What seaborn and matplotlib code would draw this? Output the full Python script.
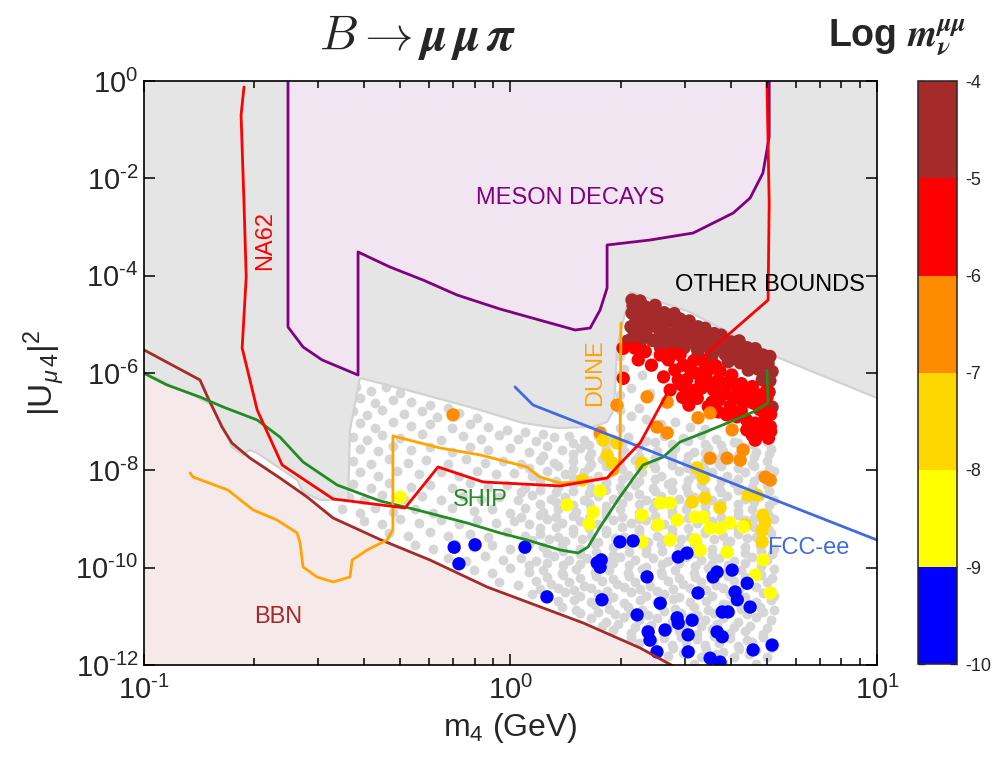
import numpy as np
import pandas as pd
import matplotlib
matplotlib.use("Agg")
import matplotlib.pyplot as plt
import seaborn as sns
from matplotlib.colors import ListedColormap, BoundaryNorm
from matplotlib.cm import ScalarMappable
from matplotlib.ticker import FixedLocator, NullLocator, NullFormatter, FuncFormatter

# all curves as log10(m4 / GeV) and log10(|U|^2)

na62_lx = [-0.726, -0.734, -0.726, -0.720, -0.731, -0.690, -0.622, -0.483, -0.287, -0.197,
           -0.074, 0.136, 0.264, 0.291, 0.354, 0.428, 0.509, 0.703, 0.706, 0.700]
na62_ly = [-0.123, -0.699, -2.507, -4.027, -5.486, -6.760, -7.890, -8.588, -8.773, -7.931,
           -8.239, -8.321, -8.157, -7.931, -7.438, -6.411, -5.774, -4.500, -2.507, -0.041]

meson_lx = [-0.606, -0.606, -0.565, -0.513, -0.415, -0.415, -0.328, -0.238, -0.145, -0.028,
            0.128, 0.177, 0.218, 0.245, 0.264, 0.264, 0.381, 0.499, 0.608, 0.654,
            0.689, 0.706, 0.706]
meson_ly = [0.0, -5.054, -5.465, -5.732, -6.041, -3.513, -3.822, -4.089, -4.397, -4.685,
            -5.013, -5.116, -5.075, -4.705, -4.253, -3.370, -3.267, -3.123, -2.712, -2.404,
            -1.890, -1.151, 0.0]

bbn_lx = [-1.0, -0.846, -0.824, -0.786, -0.759, -0.710, -0.628, -0.554, -0.483, -0.352,
          -0.219, -0.063, 0.046, 0.199, 0.354, 0.449]
bbn_ly = [-5.52, -6.143, -6.513, -7.109, -7.438, -7.746, -8.157, -8.547, -8.979, -9.431,
          -9.842, -10.397, -10.705, -11.136, -11.650, -12.041]

ship_lx = [-1.0, -0.936, -0.846, -0.783, -0.690, -0.628, -0.565, -0.472, -0.355, -0.254,
           -0.118, -0.028, 0.046, 0.136, 0.185, 0.212, 0.245, 0.299, 0.362, 0.417,
           0.463, 0.526, 0.599, 0.662, 0.703, 0.700]
ship_ly = [-6.000, -6.246, -6.493, -6.698, -6.965, -7.315, -7.828, -8.301, -8.629, -8.814,
           -9.081, -9.287, -9.431, -9.636, -9.698, -9.575, -9.164, -8.547, -7.890, -7.726,
           -7.417, -7.232, -7.006, -6.801, -6.616, -5.938]

dune_lx = [-0.873, -0.865, -0.770, -0.701, -0.636, -0.581, -0.573, -0.565, -0.527, -0.483,
           -0.437, -0.431, -0.390, -0.336, -0.320, -0.320, -0.191, -0.082, 0.046, 0.081,
           0.136, 0.185, 0.264, 0.291, 0.299, 0.302]
dune_ly = [-8.054, -8.137, -8.404, -8.814, -9.020, -9.287, -9.493, -9.986, -10.191, -10.294,
           -10.191, -9.842, -9.636, -9.431, -9.225, -7.294, -7.541, -7.684, -7.931, -8.137,
           -8.260, -8.239, -8.157, -8.054, -7.787, -4.972]

fcc_lx = [0.013, 0.062, 1.0]
fcc_ly = [-6.287, -6.657, -9.431]

# outline of the grey "other bounds" area
other_lx = [-1.0, 1.0, 1.0, 0.700, 0.490, 0.327, 0.291, 0.286, 0.278, 0.264,
            0.226, 0.128, 0.035, -0.101, -0.282, -0.410, -0.437, -0.442, -0.519, -0.565,
            -0.581, -0.690, -0.710, -0.729, -0.759, -0.770, -0.813, -0.865, -0.928, -1.0]
other_ly = [0.0, 0.0, -6.513, -5.589, -4.746, -4.335, -5.465, -6.349, -6.821, -7.006,
            -7.109, -7.130, -7.027, -6.719, -6.349, -6.102, -7.171, -8.609, -8.609, -8.445,
            -8.198, -7.643, -7.582, -7.684, -7.520, -7.315, -6.657, -6.452, -6.246, -5.979]

# axis ticks
x_major = [0.1, 1.0, 10.0]
x_minor = [0.2, 0.3, 0.4, 0.5, 0.6, 0.7, 0.8, 0.9, 2, 3, 4, 5, 6, 7, 8, 9]
y_major = [1e-12, 1e-10, 1e-8, 1e-6, 1e-4, 1e-2, 1.0]

# scan points, (log10 m4, log10 |U|^2)
gray_pts = [
    (-0.42, -6.28), (-0.38, -6.36), (-0.34, -6.29), (-0.30, -6.41),
    (-0.41, -6.52), (-0.37, -6.61), (-0.32, -6.55), (-0.27, -6.60), (-0.22, -6.66), (-0.17, -6.72),
    (0.30, -6.45), (0.30, -6.05), (0.30, -5.65), (0.31, -5.30), (0.33, -6.30), (0.30, -6.75),
    (0.35, -6.72), (0.38, -6.42), (0.31, -5.92), (0.36, -6.05),
    (-0.43, -6.79), (-0.39, -6.87), (-0.35, -6.76), (-0.29, -6.84), (-0.24, -6.79), (-0.20, -6.90),
    (-0.14, -6.83), (-0.09, -6.93), (0.33, -6.88), (0.37, -6.95),
    (-0.41, -7.03), (-0.37, -7.12), (-0.32, -7.01), (-0.27, -7.09), (-0.22, -7.04), (-0.16, -7.13),
    (-0.11, -7.05), (-0.06, -7.11), (-0.01, -7.17), (0.04, -7.22), (0.09, -7.25), (0.30, -7.12),
    (0.41, -7.05), (0.45, -7.00), (0.49, -7.10), (0.53, -7.15),
    (-0.43, -7.31), (-0.39, -7.37), (-0.35, -7.27), (-0.30, -7.34), (-0.24, -7.26), (-0.19, -7.38),
    (-0.13, -7.30), (-0.08, -7.35), (-0.03, -7.27), (0.02, -7.36), (0.07, -7.40), (0.12, -7.32),
    (0.16, -7.29), (0.20, -7.37), (0.24, -7.30), (0.28, -7.36), (0.32, -7.31), (0.37, -7.39),
    (0.42, -7.30), (0.47, -7.34), (0.52, -7.27), (0.56, -7.36), (0.61, -7.41), (0.66, -7.46),
    (-0.41, -7.56), (-0.36, -7.61), (-0.32, -7.51), (-0.27, -7.59), (-0.22, -7.53), (-0.16, -7.62),
    (-0.11, -7.52), (-0.06, -7.58), (0.00, -7.55), (0.05, -7.63), (0.10, -7.51), (0.14, -7.58),
    (0.19, -7.55), (0.22, -7.64), (0.26, -7.54), (0.31, -7.61), (0.35, -7.52), (0.40, -7.60),
    (0.45, -7.55), (0.50, -7.63), (0.54, -7.54), (0.58, -7.60), (0.63, -7.53), (0.67, -7.62),
    (0.71, -7.56),
    (-0.43, -7.81), (-0.38, -7.86), (-0.33, -7.77), (-0.28, -7.85), (-0.23, -7.79), (-0.17, -7.88),
    (-0.12, -7.77), (-0.07, -7.84), (-0.02, -7.80), (0.03, -7.87), (0.08, -7.78), (0.12, -7.85),
    (0.17, -7.81), (0.22, -7.87), (0.25, -7.77), (0.30, -7.84), (0.34, -7.79), (0.39, -7.88),
    (0.44, -7.78), (0.48, -7.85), (0.53, -7.80), (0.57, -7.87), (0.62, -7.79), (0.66, -7.86),
    (0.70, -7.80),
    (-0.41, -8.04), (-0.36, -8.11), (-0.31, -8.01), (-0.25, -8.08), (-0.19, -8.03), (-0.14, -8.12),
    (-0.09, -8.02), (-0.04, -8.08), (0.01, -8.05), (0.06, -8.11), (0.10, -8.01), (0.15, -8.08),
    (0.20, -8.03), (0.24, -8.12), (0.28, -8.02), (0.32, -8.09), (0.36, -8.04), (0.41, -8.11),
    (0.46, -8.01), (0.50, -8.08), (0.55, -8.04), (0.59, -8.12), (0.64, -8.03), (0.68, -8.10),
    (0.72, -8.02),
    (-0.43, -8.29), (-0.38, -8.36), (-0.33, -8.27), (-0.27, -8.35), (-0.22, -8.30), (-0.16, -8.37),
    (-0.11, -8.27), (-0.06, -8.34), (-0.01, -8.30), (0.04, -8.37), (0.08, -8.28), (0.13, -8.34),
    (0.17, -8.29), (0.22, -8.36), (0.26, -8.27), (0.30, -8.35), (0.34, -8.30), (0.39, -8.37),
    (0.43, -8.28), (0.48, -8.34), (0.52, -8.30), (0.57, -8.37), (0.61, -8.27), (0.66, -8.34),
    (0.70, -8.30),
    (-0.44, -8.54), (-0.40, -8.61), (-0.35, -8.51), (-0.29, -8.59), (-0.24, -8.53), (-0.19, -8.61),
    (-0.13, -8.52), (-0.08, -8.58), (-0.03, -8.54), (0.02, -8.61), (0.06, -8.51), (0.11, -8.58),
    (0.15, -8.54), (0.20, -8.61), (0.24, -8.52), (0.28, -8.58), (0.32, -8.53), (0.37, -8.61),
    (0.41, -8.52), (0.46, -8.59), (0.50, -8.54), (0.55, -8.61), (0.59, -8.52), (0.64, -8.58),
    (0.68, -8.53), (0.72, -8.60),
    (-0.46, -8.79), (-0.41, -8.87), (-0.37, -8.77), (-0.32, -8.85), (-0.26, -8.80), (-0.21, -8.87),
    (-0.16, -8.77), (-0.10, -8.84), (-0.05, -8.80), (0.00, -8.87), (0.04, -8.78), (0.09, -8.85),
    (0.13, -8.80), (0.18, -8.86), (0.22, -8.77), (0.26, -8.84), (0.30, -8.80), (0.35, -8.87),
    (0.39, -8.78), (0.44, -8.84), (0.48, -8.80), (0.53, -8.87), (0.57, -8.77), (0.62, -8.84),
    (0.66, -8.80), (0.70, -8.86),
    (-0.40, -9.04), (-0.35, -9.11), (-0.30, -9.01), (-0.25, -9.08), (-0.19, -9.03), (-0.14, -9.11),
    (-0.09, -9.02), (-0.04, -9.08), (0.01, -9.04), (0.05, -9.11), (0.10, -9.01), (0.14, -9.08),
    (0.19, -9.04), (0.24, -9.11), (0.28, -9.02), (0.33, -9.08), (0.37, -9.03), (0.42, -9.11),
    (0.46, -9.02), (0.51, -9.08), (0.55, -9.04), (0.60, -9.11), (0.64, -9.02), (0.69, -9.08),
    (0.72, -9.00),
    (-0.33, -9.29), (-0.28, -9.35), (-0.22, -9.27), (-0.17, -9.35), (-0.11, -9.30), (-0.06, -9.37),
    (-0.01, -9.27), (0.04, -9.34), (0.08, -9.30), (0.13, -9.37), (0.17, -9.28), (0.22, -9.34),
    (0.26, -9.29), (0.31, -9.36), (0.35, -9.27), (0.40, -9.34), (0.44, -9.30), (0.49, -9.37),
    (0.53, -9.28), (0.58, -9.34), (0.62, -9.30), (0.67, -9.36), (0.71, -9.28),
    (-0.26, -9.54), (-0.21, -9.61), (-0.15, -9.51), (-0.10, -9.58), (-0.05, -9.54), (0.00, -9.61),
    (0.05, -9.51), (0.09, -9.58), (0.14, -9.54), (0.19, -9.61), (0.23, -9.52), (0.28, -9.58),
    (0.32, -9.53), (0.37, -9.61), (0.41, -9.52), (0.46, -9.58), (0.50, -9.54), (0.55, -9.61),
    (0.59, -9.51), (0.64, -9.58), (0.68, -9.54), (0.72, -9.61),
    (-0.17, -9.80), (-0.12, -9.87), (-0.07, -9.77), (-0.02, -9.84), (0.03, -9.80), (0.07, -9.87),
    (0.12, -9.77), (0.16, -9.84), (0.21, -9.80), (0.26, -9.87), (0.30, -9.78), (0.34, -9.84),
    (0.39, -9.80), (0.43, -9.87), (0.48, -9.78), (0.52, -9.84), (0.57, -9.80), (0.61, -9.87),
    (0.66, -9.78), (0.70, -9.84),
    (-0.10, -10.04), (-0.05, -10.11), (0.00, -10.01), (0.05, -10.08), (0.09, -10.04), (0.14, -10.11),
    (0.18, -10.02), (0.23, -10.08), (0.27, -10.04), (0.32, -10.11), (0.36, -10.02), (0.41, -10.08),
    (0.45, -10.04), (0.50, -10.11), (0.54, -10.01), (0.59, -10.08), (0.63, -10.04), (0.68, -10.11),
    (0.72, -10.02),
    (-0.03, -10.29), (0.02, -10.36), (0.07, -10.27), (0.11, -10.34), (0.16, -10.30), (0.20, -10.37),
    (0.25, -10.27), (0.29, -10.34), (0.34, -10.30), (0.38, -10.37), (0.43, -10.28), (0.47, -10.34),
    (0.52, -10.29), (0.56, -10.36), (0.61, -10.27), (0.65, -10.34), (0.70, -10.30),
    (0.06, -10.54), (0.10, -10.61), (0.15, -10.51), (0.19, -10.58), (0.24, -10.54), (0.28, -10.61),
    (0.33, -10.51), (0.37, -10.58), (0.42, -10.54), (0.46, -10.61), (0.51, -10.52), (0.55, -10.58),
    (0.60, -10.54), (0.64, -10.61), (0.69, -10.52), (0.72, -10.58),
    (0.14, -10.80), (0.18, -10.87), (0.23, -10.77), (0.27, -10.84), (0.32, -10.80), (0.36, -10.87),
    (0.41, -10.78), (0.45, -10.84), (0.50, -10.80), (0.54, -10.87), (0.59, -10.77), (0.63, -10.84),
    (0.68, -10.80), (0.72, -10.86),
    (0.22, -11.04), (0.26, -11.11), (0.31, -11.01), (0.35, -11.08), (0.40, -11.04), (0.44, -11.11),
    (0.49, -11.02), (0.53, -11.08), (0.58, -11.04), (0.62, -11.11), (0.67, -11.01), (0.71, -11.08),
    (0.28, -11.29), (0.33, -11.35), (0.37, -11.27), (0.42, -11.34), (0.46, -11.30), (0.51, -11.37),
    (0.55, -11.27), (0.60, -11.34), (0.64, -11.30), (0.69, -11.36),
    (0.35, -11.55), (0.39, -11.50), (0.44, -11.58), (0.48, -11.52), (0.53, -11.58), (0.57, -11.54),
    (0.62, -11.60), (0.66, -11.52), (0.71, -11.58),
    (0.43, -11.82), (0.47, -11.76), (0.52, -11.84), (0.56, -11.78), (0.61, -11.84), (0.65, -11.78),
    (0.70, -11.84), (0.50, -11.97), (0.58, -11.95), (0.67, -11.97),
    # denser cloud at the heavy-mass side
    (0.17, -7.44), (0.215, -7.47), (0.26, -7.41), (0.305, -7.45), (0.35, -7.49), (0.395, -7.42),
    (0.44, -7.46), (0.485, -7.40), (0.53, -7.45), (0.575, -7.48), (0.62, -7.43), (0.70, -7.42),
    (0.09, -7.70), (0.17, -7.67), (0.215, -7.72), (0.26, -7.69), (0.305, -7.66), (0.35, -7.71),
    (0.395, -7.74), (0.44, -7.68), (0.485, -7.70), (0.53, -7.65), (0.575, -7.72), (0.62, -7.69),
    (0.665, -7.73), (0.705, -7.67),
    (0.05, -7.96), (0.13, -7.92), (0.17, -7.97), (0.215, -7.94), (0.26, -7.91), (0.305, -7.98),
    (0.35, -7.93), (0.395, -7.96), (0.44, -7.90), (0.485, -7.95), (0.53, -7.99), (0.575, -7.92),
    (0.62, -7.95), (0.665, -7.91), (0.705, -7.97),
    (0.08, -8.19), (0.125, -8.22), (0.17, -8.16), (0.215, -8.20), (0.26, -8.23), (0.305, -8.17),
    (0.35, -8.21), (0.395, -8.18), (0.44, -8.24), (0.485, -8.19), (0.53, -8.16), (0.575, -8.22),
    (0.62, -8.18), (0.665, -8.21), (0.705, -8.17),
    (0.03, -8.44), (0.08, -8.41), (0.125, -8.45), (0.17, -8.42), (0.215, -8.47), (0.26, -8.40),
    (0.305, -8.44), (0.35, -8.48), (0.395, -8.43), (0.44, -8.41), (0.485, -8.46), (0.53, -8.42),
    (0.575, -8.45), (0.62, -8.40), (0.665, -8.47), (0.705, -8.43),
    (0.08, -8.69), (0.125, -8.66), (0.17, -8.71), (0.215, -8.68), (0.26, -8.73), (0.305, -8.67),
    (0.35, -8.70), (0.395, -8.65), (0.44, -8.71), (0.485, -8.69), (0.53, -8.74), (0.575, -8.67),
    (0.62, -8.70), (0.665, -8.66), (0.705, -8.72),
    (0.03, -8.95), (0.08, -8.92), (0.125, -8.96), (0.17, -8.93), (0.215, -8.98), (0.26, -8.91),
    (0.305, -8.95), (0.35, -8.99), (0.395, -8.94), (0.44, -8.91), (0.485, -8.97), (0.53, -8.93),
    (0.575, -8.96), (0.62, -8.92), (0.665, -8.97), (0.705, -8.94),
    (0.08, -9.19), (0.125, -9.16), (0.17, -9.21), (0.215, -9.18), (0.26, -9.23), (0.305, -9.17),
    (0.35, -9.20), (0.395, -9.15), (0.44, -9.21), (0.485, -9.19), (0.53, -9.24), (0.575, -9.17),
    (0.62, -9.20), (0.665, -9.16), (0.705, -9.22),
    (0.06, -9.44), (0.105, -9.41), (0.15, -9.45), (0.195, -9.42), (0.24, -9.47), (0.285, -9.40),
    (0.33, -9.44), (0.375, -9.48), (0.42, -9.43), (0.465, -9.41), (0.51, -9.46), (0.555, -9.42),
    (0.60, -9.45), (0.645, -9.40), (0.69, -9.47),
    (0.10, -9.69), (0.145, -9.66), (0.19, -9.71), (0.235, -9.68), (0.28, -9.73), (0.325, -9.67),
    (0.37, -9.70), (0.415, -9.65), (0.46, -9.71), (0.505, -9.69), (0.55, -9.74), (0.595, -9.67),
    (0.64, -9.70), (0.685, -9.66), (0.715, -9.72),
    (0.05, -9.94), (0.10, -9.91), (0.145, -9.95), (0.19, -9.92), (0.235, -9.97), (0.28, -9.90),
    (0.325, -9.94), (0.37, -9.98), (0.415, -9.93), (0.46, -9.91), (0.505, -9.96), (0.55, -9.92),
    (0.595, -9.95), (0.64, -9.90), (0.685, -9.97),
    (0.10, -10.19), (0.145, -10.16), (0.19, -10.21), (0.235, -10.18), (0.28, -10.23), (0.325, -10.17),
    (0.37, -10.20), (0.415, -10.15), (0.46, -10.21), (0.505, -10.19), (0.55, -10.24), (0.595, -10.17),
    (0.64, -10.20), (0.685, -10.16), (0.715, -10.22),
    (0.08, -10.44), (0.13, -10.41), (0.175, -10.45), (0.22, -10.42), (0.265, -10.47), (0.31, -10.40),
    (0.355, -10.44), (0.40, -10.48), (0.445, -10.43), (0.49, -10.41), (0.535, -10.46), (0.58, -10.42),
    (0.625, -10.45), (0.67, -10.40), (0.71, -10.47),
    (0.13, -10.69), (0.175, -10.66), (0.22, -10.71), (0.265, -10.68), (0.31, -10.73), (0.355, -10.67),
    (0.40, -10.70), (0.445, -10.65), (0.49, -10.71), (0.535, -10.69), (0.58, -10.74), (0.625, -10.67),
    (0.67, -10.70), (0.71, -10.66),
    (0.19, -10.94), (0.24, -10.91), (0.285, -10.95), (0.33, -10.92), (0.375, -10.97), (0.42, -10.90),
    (0.465, -10.94), (0.51, -10.98), (0.555, -10.93), (0.60, -10.91), (0.645, -10.96), (0.69, -10.92),
    (0.25, -11.19), (0.295, -11.16), (0.34, -11.21), (0.385, -11.18), (0.43, -11.23), (0.475, -11.17),
    (0.52, -11.20), (0.565, -11.15), (0.61, -11.21), (0.655, -11.19), (0.70, -11.24),
    (0.33, -11.44), (0.375, -11.41), (0.42, -11.45), (0.465, -11.42), (0.51, -11.47), (0.555, -11.40),
    (0.60, -11.44), (0.645, -11.48), (0.69, -11.43),
    (0.40, -11.69), (0.445, -11.66), (0.49, -11.71), (0.535, -11.68), (0.58, -11.73), (0.625, -11.67),
    (0.67, -11.70), (0.71, -11.66),
]

brown_pts = [
    (0.332, -4.50), (0.354, -4.52),
    (0.335, -4.62), (0.368, -4.64), (0.395, -4.61),
    (0.332, -4.77), (0.359, -4.75), (0.387, -4.79), (0.420, -4.76), (0.447, -4.78),
    (0.343, -4.91), (0.376, -4.93), (0.403, -4.90), (0.436, -4.92), (0.463, -4.89), (0.488, -4.93),
    (0.329, -5.05), (0.357, -5.07), (0.395, -5.04), (0.417, -5.06), (0.455, -5.03), (0.485, -5.07),
    (0.512, -5.05), (0.531, -5.08),
    (0.338, -5.20), (0.370, -5.18), (0.409, -5.21), (0.441, -5.19), (0.474, -5.22), (0.501, -5.18),
    (0.531, -5.21), (0.556, -5.19), (0.575, -5.22),
    (0.321, -5.34), (0.354, -5.36), (0.387, -5.33), (0.425, -5.35), (0.458, -5.32), (0.490, -5.36),
    (0.518, -5.34), (0.548, -5.37), (0.578, -5.33), (0.602, -5.36), (0.624, -5.34),
    (0.308, -5.49), (0.409, -5.47), (0.441, -5.50), (0.474, -5.48), (0.510, -5.51), (0.540, -5.47),
    (0.567, -5.50), (0.594, -5.48), (0.621, -5.51), (0.646, -5.48), (0.668, -5.50),
    (0.512, -5.63), (0.550, -5.65), (0.586, -5.62), (0.613, -5.64), (0.640, -5.61), (0.665, -5.65),
    (0.689, -5.63), (0.708, -5.66),
    (0.594, -5.77), (0.627, -5.79), (0.654, -5.76), (0.681, -5.78), (0.703, -5.80),
    (0.649, -5.94), (0.676, -5.92), (0.698, -5.95), (0.714, -5.97),
    (0.687, -6.14), (0.708, -6.16), (0.706, -6.39), (0.714, -6.70),
]

red_pts = [
    (0.308, -5.49), (0.340, -5.49), (0.368, -5.56), (0.349, -5.73), (0.385, -5.84), (0.409, -5.63),
    (0.431, -5.73), (0.463, -5.63), (0.472, -5.84), (0.449, -5.94), (0.490, -5.90), (0.418, -6.08),
    (0.458, -6.14), (0.481, -6.14), (0.436, -6.35), (0.468, -6.25), (0.510, -6.01), (0.540, -5.94),
    (0.572, -5.97), (0.604, -6.04), (0.536, -6.14), (0.568, -6.14), (0.590, -6.21), (0.618, -6.31),
    (0.649, -6.35), (0.681, -6.45), (0.522, -6.31), (0.554, -6.35), (0.586, -6.42), (0.609, -6.52),
    (0.636, -6.62), (0.663, -6.62), (0.690, -6.62), (0.510, -6.52), (0.487, -6.66), (0.540, -6.69),
    (0.568, -6.80), (0.590, -6.86), (0.618, -6.90), (0.645, -6.97), (0.668, -7.03), (0.695, -6.93),
    (0.709, -7.10), (0.681, -7.24), (0.704, -7.34), (0.668, -7.38), (0.645, -7.17), (0.308, -6.11),
    (0.481, -6.42),
    (0.440, -5.60), (0.500, -5.75), (0.530, -5.80), (0.560, -5.85), (0.520, -6.20), (0.560, -6.25),
    (0.600, -6.15), (0.630, -6.22), (0.660, -6.28), (0.700, -6.35), (0.620, -6.45), (0.650, -6.50),
    (0.700, -6.50), (0.570, -6.55), (0.600, -6.68), (0.680, -6.75), (0.710, -6.85), (0.630, -6.78),
    (0.550, -6.60), (0.500, -6.36), (0.470, -6.50), (0.710, -7.20), (0.690, -7.05), (0.660, -7.28),
]

orange_pts = [
    (-0.156, -6.86), (0.291, -6.66), (0.245, -7.23), (0.373, -6.49), (0.428, -6.60), (0.400, -7.11),
    (0.428, -7.23), (0.512, -6.92), (0.545, -6.82), (0.605, -7.17), (0.545, -7.75), (0.591, -7.75),
    (0.627, -7.79), (0.635, -7.58), (0.695, -8.14), (0.709, -8.20),
]

gold_pts = [
    (0.253, -7.38), (0.291, -7.44), (0.264, -7.69), (0.278, -7.85), (0.196, -8.20), (0.359, -7.85),
    (0.509, -7.95), (0.526, -8.16), (0.496, -8.65), (0.531, -8.57), (0.572, -8.77), (0.649, -8.51),
    (0.673, -8.51), (0.689, -8.92), (0.695, -9.06), (0.687, -9.23), (0.687, -9.47), (0.640, -9.12),
]

yellow_pts = [
    (-0.300, -8.55), (0.155, -8.71), (0.245, -8.42), (0.226, -8.86), (0.215, -9.10), (0.359, -8.92),
    (0.409, -8.67), (0.436, -8.67), (0.403, -9.12), (0.455, -9.02), (0.436, -9.43), (0.359, -9.47),
    (0.504, -8.96), (0.526, -8.96), (0.545, -9.19), (0.572, -9.19), (0.599, -9.08), (0.635, -9.16),
    (0.504, -9.43), (0.518, -9.64), (0.591, -9.68), (0.689, -9.84), (0.668, -10.15), (0.709, -10.52),
]

blue_pts = [
    (-0.153, -9.58), (-0.096, -9.53), (-0.140, -9.92), (0.040, -9.58), (0.100, -10.60), (0.237, -9.90),
    (0.248, -9.84), (0.245, -9.99), (0.250, -10.66), (0.299, -9.47), (0.335, -9.45), (0.346, -10.97),
    (0.458, -9.78), (0.482, -9.70), (0.373, -10.19), (0.564, -10.09), (0.553, -10.19), (0.605, -10.05),
    (0.646, -10.32), (0.512, -10.52), (0.613, -10.50), (0.619, -10.66), (0.654, -10.81), (0.409, -10.73),
    (0.455, -11.03), (0.458, -11.14), (0.496, -11.08), (0.578, -10.91), (0.594, -10.91), (0.376, -11.32),
    (0.381, -11.49), (0.422, -11.28), (0.485, -11.38), (0.564, -11.32), (0.578, -11.42), (0.400, -11.73),
    (0.485, -11.73), (0.545, -11.86), (0.572, -11.94), (0.662, -11.69), (0.714, -11.59),
]

# colour classes of log10 m_nu (midpoints of each band)
class_mid = [-4.5, -5.5, -6.5, -7.5, -8.5, -9.5]
class_pts = [brown_pts, red_pts, orange_pts, gold_pts, yellow_pts, blue_pts]
band_colors = ["#0000ff", "#ffff00", "#ffd700", "#ff8c00", "#ff0000", "#a52a2a"]
band_edges = [-10, -9, -8, -7, -6, -5, -4]

# ---- style
sns.set_style("ticks")
plt.rcParams["font.family"] = ["Liberation Sans", "DejaVu Sans"]
plt.rcParams["mathtext.fontset"] = "custom"
plt.rcParams["mathtext.rm"] = "Liberation Sans"
plt.rcParams["mathtext.it"] = "Liberation Sans:italic"
plt.rcParams["mathtext.bf"] = "Liberation Sans:bold"
plt.rcParams["axes.unicode_minus"] = False

fig = plt.figure(figsize=(10, 7.6), dpi=100)
ax = fig.add_axes([0.1435, 0.125, 0.7335, 0.7684])
ax.set_xscale("log")
ax.set_yscale("log")
ax.set_xlim(0.1, 10)
ax.set_ylim(1e-12, 1)
ax.set_facecolor("white")


def pw(v):
    return 10.0 ** np.asarray(v)


# grey scan points
gray = np.array(gray_pts)
sns.scatterplot(x=pw(gray[:, 0]), y=pw(gray[:, 1]), color="#d6d6d6", s=50,
                linewidth=0, zorder=2, ax=ax)

# shaded regions
ax.fill_between(pw(bbn_lx), pw(bbn_ly), 1e-13, color="#f5e9e9", lw=0, zorder=3)
ax.fill(pw(other_lx), pw(other_ly), color="#e5e5e5", lw=0, zorder=3)
ax.plot(pw(other_lx[2:]), pw(other_ly[2:]), color="#d2d2d2", lw=1.6, zorder=3.1)
ax.fill(pw(meson_lx), pw(meson_ly), color="#f1e5f2", lw=0, zorder=3.2)

# coloured scan points
rows = []
for mid, pts in zip(class_mid, class_pts):
    for lx, ly in pts:
        rows.append({"m": 10 ** lx, "u2": 10 ** ly, "logm": mid})
df = pd.DataFrame(rows)
palette = {mid: band_colors[int(mid + 10)] for mid in class_mid}
sns.scatterplot(data=df, x="m", y="u2", hue="logm", palette=palette, s=92,
                linewidth=0, legend=False, zorder=4, ax=ax)

# limit curves
curves = [
    (meson_lx, meson_ly, "#800080", 2.0),
    (bbn_lx, bbn_ly, "#a52a2a", 2.0),
    (ship_lx, ship_ly, "#228b22", 2.0),
    (dune_lx, dune_ly, "#ffa500", 2.0),
    (fcc_lx, fcc_ly, "#4169e1", 2.0),
    (na62_lx, na62_ly, "#ff0000", 2.0),
]
for lx, ly, col, lw in curves:
    sns.lineplot(x=pw(lx), y=pw(ly), sort=False, estimator=None, color=col,
                 linewidth=lw, zorder=5, ax=ax)

# region labels
lab_kw = dict(fontsize=17, ha="center", va="center", zorder=6)
ax.text(1.46, 4.0e-3, "MESON DECAYS", color="#800080", **lab_kw)
ax.text(5.1, 6.5e-5, "OTHER BOUNDS", color="black", **lab_kw)
ax.text(0.214, 5.4e-4, "NA62", color="#ff0000", rotation=90, **lab_kw)
ax.text(1.70, 1.0e-6, "DUNE", color="#ffa500", rotation=90, **lab_kw)
ax.text(0.827, 2.5e-9, "SHIP", color="#228b22", **lab_kw)
ax.text(6.5, 2.5e-10, "FCC-ee", color="#4169e1", **lab_kw)
ax.text(0.233, 9.8e-12, "BBN", color="#a52a2a", **lab_kw)


# powers of ten with a plain hyphen in the exponent, as in the original
def pow_label(v, pos):
    e = int(round(np.log10(v)))
    return r"$\mathdefault{10^{\text{%d}}}$" % e


# axes
ax.yaxis.set_major_locator(FixedLocator(y_major))
ax.yaxis.set_minor_locator(NullLocator())
ax.xaxis.set_major_locator(FixedLocator(x_major))
ax.xaxis.set_minor_locator(FixedLocator(x_minor))
ax.xaxis.set_minor_formatter(NullFormatter())
ax.xaxis.set_major_formatter(FuncFormatter(pow_label))
ax.yaxis.set_major_formatter(FuncFormatter(pow_label))
ax.tick_params(which="both", direction="in", top=True, right=True, left=True,
               bottom=True, labelsize=21, width=1.1, color="black")
ax.tick_params(which="major", length=8)
ax.tick_params(which="minor", length=5)
ax.tick_params(axis="x", pad=8)
ax.xaxis.set_zorder(8)
ax.yaxis.set_zorder(8)
for sp in ax.spines.values():
    sp.set_linewidth(1.2)
    sp.set_color("black")
    sp.set_zorder(8)
ax.set_xlabel("m$_4$ (GeV)", fontsize=23, labelpad=4)
ax.set_ylabel(r"|U$_{\mu\,4}$|$^2$", fontsize=24, labelpad=6)

# colour bar
cmap = ListedColormap(band_colors)
norm = BoundaryNorm(band_edges, cmap.N)
cax = fig.add_axes([0.918, 0.126, 0.039, 0.767])
cb = fig.colorbar(ScalarMappable(norm=norm, cmap=cmap), cax=cax, ticks=band_edges)
cb.ax.set_yticklabels([str(v) for v in band_edges])
cb.ax.tick_params(direction="in", length=5, width=1, left=True, right=True,
                  labelsize=13, pad=6)
cb.outline.set_linewidth(1.1)

# titles
fig.text(0.418, 0.951, r"$B \rightarrow \boldsymbol{\mu}\,\boldsymbol{\mu}\,\boldsymbol{\pi}$",
         fontsize=35, ha="center", va="center", math_fontfamily="cm")
fig.text(0.897, 0.951, r"Log $\boldsymbol{m}_{\boldsymbol{\nu}}^{\boldsymbol{\mu\mu}}$",
         fontsize=27, fontweight="bold", ha="center", va="center", math_fontfamily="cm")

fig.savefig("out.png", dpi=100)
